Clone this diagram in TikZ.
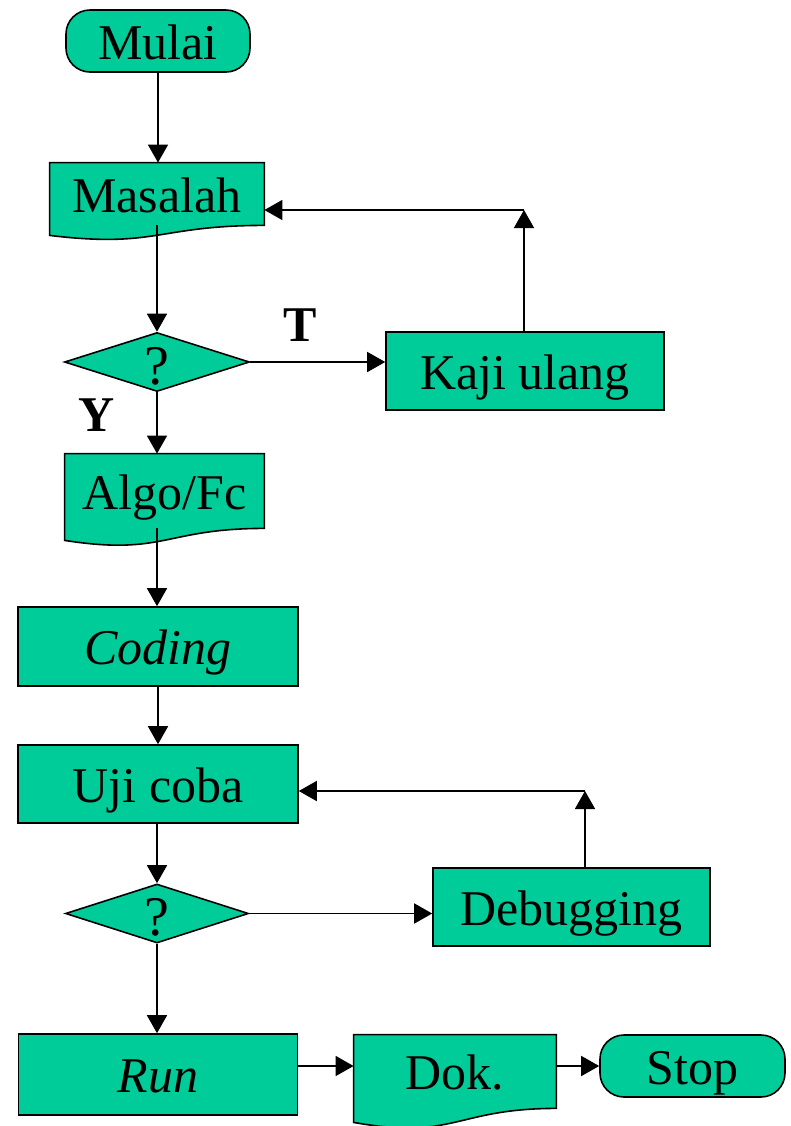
\documentclass[tikz,border=0pt]{standalone}
\usepackage{fontspec}
\setmainfont{Liberation Serif}
\usetikzlibrary{arrows.meta,shapes.geometric,backgrounds}
\definecolor{flowgreen}{RGB}{0,204,153}
% document outline with a wavy lower edge, under node #1
\newcommand\docshape[2]{%
  \begin{scope}[on background layer]
    \draw[boxline] (#1.north west) -- (#1.north east) -- (#1.south east)
      .. controls (#1.south) and ([yshift=-2.3*#2]#1.south) .. ([yshift=-#2]#1.south west) -- cycle;
  \end{scope}}
\begin{document}
\begin{tikzpicture}[x=0.5pt,y=-0.5pt,>={Triangle[length=9pt,width=10pt]},
  font=\fontsize{25}{30}\selectfont,
  boxline/.style={draw=black,line width=0.8pt,fill=flowgreen},
  box/.style={boxline,rectangle,inner sep=0pt,text height=18pt,text depth=0pt},
  term/.style={box,rounded corners=12pt},
  doc/.style={rectangle,inner sep=0pt,text height=18pt,text depth=0pt},
  decision/.style={boxline,diamond,aspect=3.1,inner sep=0pt,text height=18pt,text depth=0pt},
  arr/.style={->,line width=0.8pt}]
  \useasboundingbox (0,0) rectangle (791,1126);
  % nodes
  \node[term,minimum width=92pt,minimum height=31pt] (mulai) at (158,41) {Mulai};
  \node[doc,minimum width=107pt,minimum height=31pt] (masalah) at (157,194) {Masalah};
  \node[decision,minimum width=92.5pt,minimum height=29.5pt] (cek1) at (157,362) {\fontsize{28}{30}\selectfont\raisebox{-2pt}{?}};
  \node[box,minimum width=139pt,minimum height=39pt] (kaji) at (525,371) {Kaji ulang};
  \node[doc,minimum width=99.5pt,minimum height=37pt] (algo) at (164.5,491) {Algo/Fc};
  \node[box,minimum width=140pt,minimum height=39.5pt] (coding) at (158,646.5) {\itshape Coding};
  \node[box,minimum width=140pt,minimum height=39pt] (uji) at (158,784) {Uji coba};
  \node[decision,minimum width=91.5pt,minimum height=29.5pt] (cek2) at (157,913.5) {\fontsize{28}{30}\selectfont\raisebox{-2pt}{?}};
  \node[box,minimum width=138.5pt,minimum height=39pt] (debug) at (571.5,907) {Debugging};
  \node[box,minimum width=139.5pt,minimum height=40.5pt] (run) at (158,1074.5) {\itshape Run};
  \node[doc,minimum width=101pt,minimum height=36.5pt] (dok) at (455,1071.5) {Dok.};
  \node[term,minimum width=92.5pt,minimum height=31pt] (stop) at (692.5,1066) {Stop};
  \docshape{masalah}{5pt}
  \docshape{algo}{6pt}
  \docshape{dok}{7pt}
  \node[font=\fontsize{25}{30}\selectfont\bfseries] (lblT) at (300,325) {T};
  \node[font=\fontsize{25}{30}\selectfont\bfseries] (lblY) at (97,415) {Y};
  \coordinate (balik1) at (524,210);
  \coordinate (balik2) at (585,791);
  % connectors
  \draw[arr] (mulai.south) -- (mulai.south |- masalah.north);
  \draw[arr] (masalah.south) -- (cek1.north);
  \draw[arr] (cek1.east) -- (cek1.east -| kaji.west);
  \draw[arr] (balik1 |- kaji.north) -- (balik1);
  \draw[arr] (balik1) -- (balik1 -| masalah.east);
  \draw[arr] (cek1.south) -- (cek1.south |- algo.north);
  \draw[arr] (algo.south -| cek1) -- (coding.north -| cek1);
  \draw[arr] (coding.south) -- (uji.north);
  \draw[arr] (uji.south -| cek2) -- (cek2.north);
  \draw[arr] (cek2.east) -- (cek2.east -| debug.west);
  \draw[arr] (balik2 |- debug.north) -- (balik2);
  \draw[arr] (balik2) -- (balik2 -| uji.east);
  \draw[arr] (cek2.south) -- (cek2.south |- run.north);
  \draw[arr] (stop.west -| run.east) -- (stop.west -| dok.west);
  \draw[arr] (stop.west -| dok.east) -- (stop.west);
\end{tikzpicture}
\end{document}
